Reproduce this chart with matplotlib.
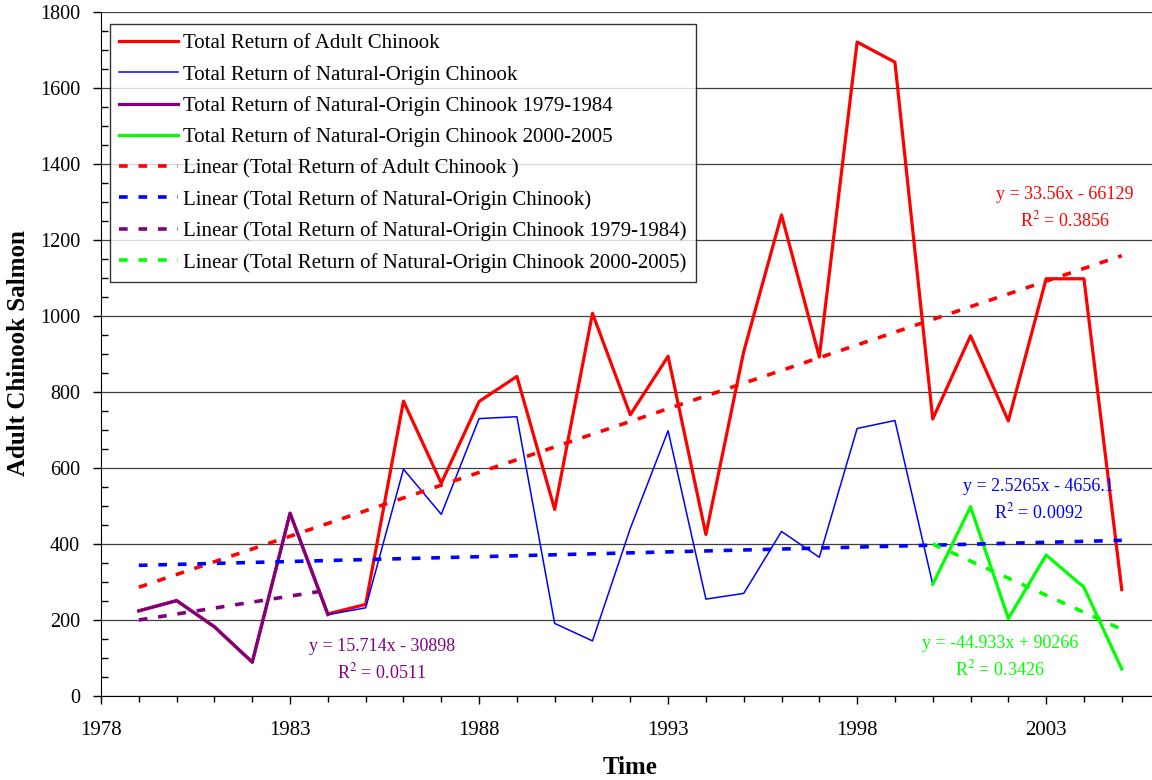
import matplotlib
matplotlib.use("Agg")
import matplotlib.pyplot as plt
from matplotlib.ticker import MultipleLocator
import numpy as np

plt.rcParams['font.family'] = ['Liberation Serif', 'DejaVu Serif']
plt.rcParams['mathtext.fontset'] = 'stix'

years = np.arange(1979, 2006)
adult = [224, 251, 182, 89, 481, 216, 241, 776, 560, 775, 841, 491, 1007, 740, 894,
         425, 906, 1266, 892, 1721, 1668, 729, 948, 724, 1098, 1098, 280]
natural = [224, 251, 182, 89, 481, 214, 232, 597, 478, 730, 735, 191, 145, 441, 698,
           255, 270, 433, 365, 704, 725, 294, 498, 204, 371, 286, 71]
early_years = np.arange(1979, 1985)
early = natural[:6]
late_years = np.arange(2000, 2006)
late = natural[21:]

# trend coefficients (slope, intercept, R2) as printed on the chart
trend_adult = (33.56, -66129, 0.3856)
trend_natural = (2.5265, -4656.1, 0.0092)
trend_early = (15.714, -30898, 0.0511)
trend_late = (-44.933, 90266, 0.3426)

labels = ["Total Return of Adult Chinook",
          "Total Return of Natural-Origin Chinook",
          "Total Return of Natural-Origin Chinook 1979-1984",
          "Total Return of Natural-Origin Chinook 2000-2005",
          "Linear (Total Return of Adult Chinook )",
          "Linear (Total Return of Natural-Origin Chinook)",
          "Linear (Total Return of Natural-Origin Chinook 1979-1984)",
          "Linear (Total Return of Natural-Origin Chinook 2000-2005)"]

red, blue, purple, green = '#ff0000', '#0000ff', '#800080', '#00ff00'

fig = plt.figure(figsize=(11.52, 7.8), dpi=100)
ax = fig.add_axes([0.0877, 0.1077, 0.9123, 0.8769])

ax.yaxis.grid(True, color='#404040', linewidth=0.9)
ax.set_axisbelow(True)

ax.plot(years, adult, color=red, lw=2.3, label=labels[0])
ax.plot(years, natural, color=blue, lw=1.1, label=labels[1])
ax.plot(early_years, early, color=purple, lw=2.3, label=labels[2])
ax.plot(late_years, late, color=green, lw=2.3, label=labels[3])

def trend(xs, coef, color, lab):
    xs = np.array([xs[0], xs[-1]])
    ax.plot(xs, coef[0] * xs + coef[1], color=color, lw=2.6, dashes=(2.4, 3.0), label=lab)

trend(years, trend_adult, red, labels[4])
trend(years, trend_natural, blue, labels[5])
trend(early_years, trend_early, purple, labels[6])
trend(late_years, trend_late, green, labels[7])

def eq(coef):
    sign = '-' if coef[1] < 0 else '+'
    return "y = %gx %s %g\nR$^2$ = %.4f" % (coef[0], sign, abs(coef[1]), coef[2])

kw = dict(fontsize=13, ha='center', va='center', linespacing=1.45)
ax.text(2003.48, 1284, eq(trend_adult), color=red, **kw)
ax.text(2002.79, 516, eq(trend_natural), color=blue, **kw)
ax.text(1985.43, 95, eq(trend_early), color=purple, **kw)
ax.text(2001.78, 103, eq(trend_late), color=green, **kw)

ax.set_xlim(1978, 2005.8)
ax.set_ylim(0, 1800)
ax.set_xticks([1978, 1983, 1988, 1993, 1998, 2003])
ax.xaxis.set_minor_locator(MultipleLocator(1))
ax.yaxis.set_major_locator(MultipleLocator(200))
ax.yaxis.set_minor_locator(MultipleLocator(50))
ax.tick_params(which='major', length=6, width=1, direction='out')
ax.tick_params(axis='x', which='major', pad=12, labelsize=15)
ax.tick_params(axis='y', which='major', pad=9, labelsize=14.5)
ax.tick_params(axis='x', which='minor', length=4, width=1, direction='out')
ax.tick_params(axis='y', which='minor', length=5, width=1, direction='in')
ax.spines['top'].set_visible(False)
ax.spines['right'].set_visible(False)

fig.text(630 / 1152, 1 - 767 / 780, "Time", fontsize=18, fontweight='bold', ha='center', va='center')
fig.text(19 / 1152, 1 - 353 / 780, "Adult Chinook Salmon", fontsize=18, fontweight='bold',
         rotation=90, ha='center', va='center')

leg = ax.legend(loc='upper left', bbox_to_anchor=(0.0086, 0.982), borderaxespad=0, fontsize=15,
                frameon=True, fancybox=False, edgecolor='black', handlelength=2.8,
                labelspacing=0.55, borderpad=0.45, handletextpad=0.25)
leg.get_frame().set_linewidth(1.0)

fig.savefig("out.png", dpi=100)
